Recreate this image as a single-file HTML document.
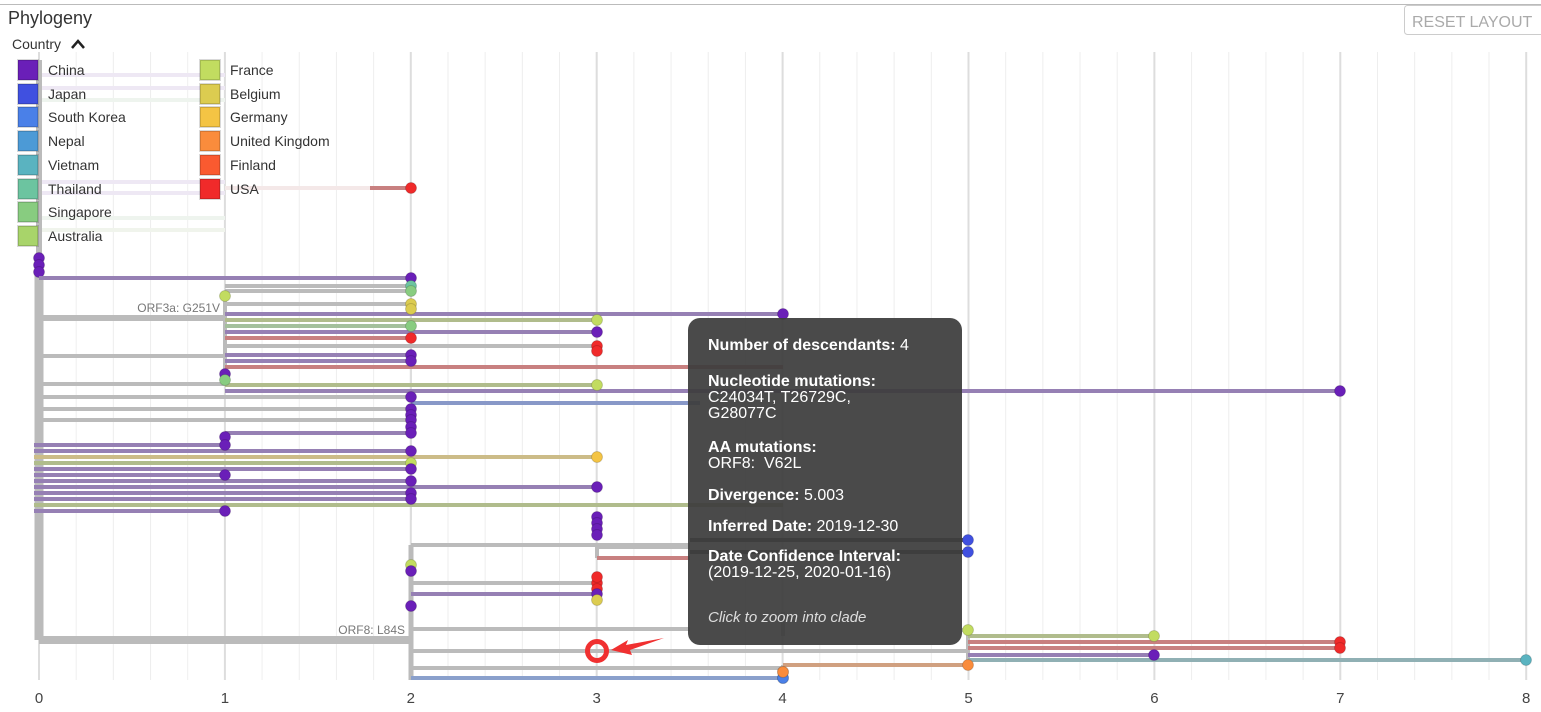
<!DOCTYPE html>
<html><head><meta charset="utf-8"><style>
body{margin:0;background:#fff;font-family:"Liberation Sans",sans-serif;}
#wrap{position:relative;width:1541px;height:712px;overflow:hidden;}
.tt{position:absolute;left:688px;top:318px;width:274px;height:327px;background:rgba(60,60,60,0.93);border-radius:12px;color:#fff;font-size:16px;line-height:16px}
.tt div{position:absolute;left:20px;white-space:nowrap}
.tt b{font-weight:bold}
</style></head><body><div id="wrap">
<svg id="s" width="1541" height="712" style="position:absolute;left:0;top:0" font-family="Liberation Sans, sans-serif"></svg>
<div class="tt">
<div style="top:20px"><b>Number of descendants:</b> 4</div>
<div style="top:56px"><b>Nucleotide mutations:</b><br>C24034T, T26729C,<br>G28077C</div>
<div style="top:122px"><b>AA mutations:</b><br>ORF8:&nbsp; V62L</div>
<div style="top:170px"><b>Divergence:</b> 5.003</div>
<div style="top:201px"><b>Inferred Date:</b> 2019-12-30</div>
<div style="top:231px"><b>Date Confidence Interval:</b><br>(2019-12-25, 2020-01-16)</div>
<div style="top:292px;font-style:italic;color:#ddd;font-size:15px">Click to zoom into clade</div>
</div>
</div>
<script>
var s=document.getElementById('s'),h='';
function X(u){return 39+u*185.9;}
h+='<line x1="0" y1="4.5" x2="1541" y2="4.5" stroke="#bbb"/>';
h+='<text x="8" y="24" font-size="18" fill="#333">Phylogeny</text>';
h+='<rect x="1404.5" y="5.5" width="140" height="29" rx="3" fill="#fff" stroke="#ccc"/>';
h+='<text x="1412" y="27" font-size="16" fill="#aaa">RESET LAYOUT</text>';
for(var i=0;i<=40;i++){var x=X(i/5);var maj=i%5==0;
h+='<line x1="'+x+'" y1="52" x2="'+x+'" y2="680" stroke="'+(maj?'#ddd':'#eee')+'" stroke-width="'+(maj?2:1)+'"/>';
if(maj)h+='<text x="'+x+'" y="703" font-size="15" fill="#444" text-anchor="middle">'+(i/5)+'</text>';}
var C={cn:'#6a1fb8',jp:'#4050e0',kr:'#4a80e8',np:'#4c9ad6',vn:'#5ab3c0',th:'#6cc4a0',sg:'#88cc80',au:'#a8d46a',fr:'#c2dc60',be:'#dccc50',de:'#f4c444',uk:'#fa8c3c',fi:'#fa5a30',us:'#f02a2a'};
var L={g:'#bbb',cn:'#9680b4',fr:'#b0bc8c',sg:'#a4c09c',us:'#c88080',jp:'#8898c8',kr:'#8aa0cc',de:'#ccbc88',uk:'#d0a080',vn:'#90b0b4'};
function ln(x1,y1,x2,y2,c,w){h+='<line x1="'+x1+'" y1="'+y1+'" x2="'+x2+'" y2="'+y2+'" stroke="'+c+'" stroke-width="'+(w||4)+'"/>';}
function dt(x,y,c){h+='<circle cx="'+x+'" cy="'+y+'" r="5.5" fill="'+c+'" stroke="rgba(0,0,0,0.15)"/>';}
ln(225,188,370,188,'#f4e8e8',4);ln(370,188,411,188,L.us,4);dt(411,188,C.us);
[[75,'#eee8f4'],[88,'#eee8f4'],[100,'#eef4ee'],[182,'#eee8f4'],[193,'#eee8f4'],[218,'#eef4ee'],[230,'#f0f4ec']].forEach(function(a){ln(39,a[0],225,a[0],a[1],4);});
ln(39,60,39,640,'#bbb',6);ln(39,270,39,640,'#bbb',9);
ln(225,296,225,384,'#bbb',4);ln(411,278,411,520,'#ddd',2);
ln(411,545,411,680,'#bbb',5);ln(597,545,597,558,'#bbb',4);ln(783,612,783,636,'#bbb',4);ln(968,629,968,660,'#bbb',4);ln(783,665,783,675,'#bbb',4);
dt(39,258,C.cn);dt(39,265,C.cn);dt(39,272,C.cn);
var R=[
[278,39,411,'cn','cn'],[286,225,411,'g','th'],[291,225,411,'g','sg'],[304,225,411,'g','be'],[309,0,411,null,'be'],
[314,225,783,'cn','cn'],[318,39,225,'g',null,6],[320,225,597,'fr','fr'],[326,225,411,'sg','sg'],[332,225,597,'cn','cn'],[338,225,411,'us','us'],
[346,225,597,'g','us'],[351,0,597,null,'us'],[356,39,225,'g',null],[355,225,411,'cn','cn'],[361,225,411,'cn','cn'],[367,225,783,'us',null],
[384,39,225,'g',null],[385,225,597,'fr','fr'],[391,225,1340,'cn','cn'],[397,39,411,'g','cn'],[403,411,700,'jp',null],
[409,39,411,'g','cn'],[415,0,411,null,'cn'],[420,39,411,'g','cn'],[427,0,411,null,'cn'],[433,225,411,'cn','cn'],
[437,0,225,null,'cn'],[445,34,225,'cn','cn'],[451,34,411,'cn','cn'],[457,34,597,'de','de'],[463,34,411,'fr','fr'],[469,34,411,'cn','cn'],
[475,34,225,'cn','cn'],[481,34,411,'cn','cn'],[487,34,597,'cn','cn'],[493,34,411,'cn','cn'],[499,34,411,'cn','cn'],[505,34,783,'fr',null],[511,34,225,'cn','cn'],
[517,0,597,null,'cn'],[523,0,597,null,'cn'],[529,0,597,null,'cn'],[535,0,597,null,'cn'],
[545,411,690,'g',null],[547,597,690,'g',null],[540,690,968,'#555','jp'],[552,690,968,'#555','jp'],[558,597,690,'us',null],
[565,0,411,null,'fr'],[571,0,411,null,'cn'],[583,411,597,'g','us'],[577,0,597,null,'us'],[589,0,597,null,'us'],[594,411,597,'cn','cn'],[600,411,597,'be','be'],[606,0,411,null,'cn'],
[640,39,411,'g',null,8],[629,411,690,'g',null],[630,962,968,'g','fr'],[636,968,1154,'fr','fr'],[642,968,1340,'us','us'],[648,968,1340,'us','us'],[655,968,1154,'cn','cn'],[660,968,1526,'vn','vn'],
[651,411,968,'g',null],[668,411,783,'g',null],[665,783,968,'uk','uk'],[672,0,783,null,'uk'],[678,411,783,'kr','kr']
];
R.forEach(function(r){if(r[3]){var c=L[r[3]]||r[3];ln(r[1],r[0],r[2],r[0],c,r[5]||4);}});
dt(225,296,C.fr);dt(225,374,C.cn);dt(225,380,C.sg);
R.forEach(function(r){if(r[4]){var c=C[r[4]];var x=r[2];
if(x==783&&r[0]>500&&r[0]<640)return;dt(x,r[0],c);}});
dt(783,678,C.kr);dt(783,672,C.uk);
h+='<text x="220" y="312" font-size="12" fill="#777" text-anchor="end">ORF3a: G251V</text>';
h+='<text x="405" y="634" font-size="12" fill="#777" text-anchor="end">ORF8: L84S</text>';
h+='<circle cx="597" cy="651" r="9.5" fill="none" stroke="#f03030" stroke-width="5"/>';
h+='<polygon points="611,650 628,640 626,645 664,638 630,650 632,655" fill="#f03030"/>';
h+='<text x="12" y="49" font-size="14" fill="#333">Country</text><path d="M72 48 L78 41 L84 48" fill="none" stroke="#222" stroke-width="2.5"/>';
var l1=[['China','cn'],['Japan','jp'],['South Korea','kr'],['Nepal','np'],['Vietnam','vn'],['Thailand','th'],['Singapore','sg'],['Australia','au']];
var l2=[['France','fr'],['Belgium','be'],['Germany','de'],['United Kingdom','uk'],['Finland','fi'],['USA','us']];
var ys=[70,94,117,141,165,189,212,236];
l1.forEach(function(a,i){h+='<rect x="18" y="'+(ys[i]-10)+'" width="20" height="20" fill="'+C[a[1]]+'" stroke="rgba(0,0,0,0.15)" stroke-width="2"/><text x="48" y="'+(ys[i]+5)+'" font-size="14" fill="#333">'+a[0]+'</text>';});
l2.forEach(function(a,i){h+='<rect x="200" y="'+(ys[i]-10)+'" width="20" height="20" fill="'+C[a[1]]+'" stroke="rgba(0,0,0,0.15)" stroke-width="2"/><text x="230" y="'+(ys[i]+5)+'" font-size="14" fill="#333">'+a[0]+'</text>';});
s.innerHTML=h;
</script></body></html>
